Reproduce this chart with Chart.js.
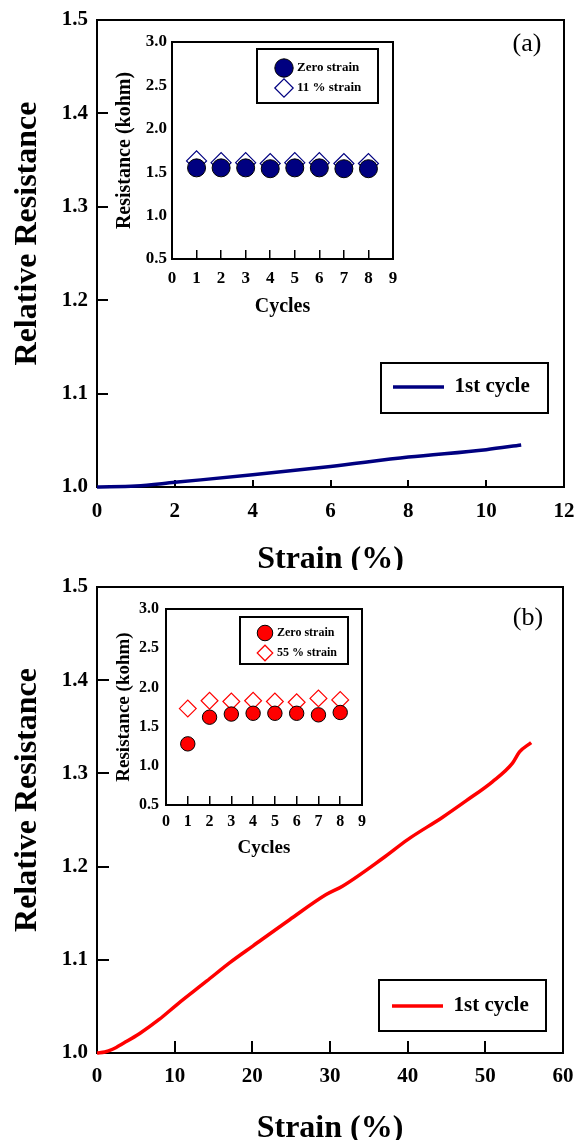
<!DOCTYPE html>
<html>
<head>
<meta charset="utf-8">
<script src="https://cdn.jsdelivr.net/npm/chart.js@4.4.1/dist/chart.umd.min.js"></script>
<style>
  body { margin: 0; background: #fff; }
  #page { position: relative; width: 576px; height: 1140px; overflow: hidden; }
  canvas { position: absolute; }
</style>
</head>
<body>
<div id="page">
  <canvas id="mainA" width="576" height="570" style="left:0;top:0"></canvas>
  <canvas id="mainB" width="576" height="570" style="left:0;top:570px"></canvas>
  <canvas id="insetA" width="300" height="295" style="left:105px;top:30px"></canvas>
  <canvas id="insetB" width="280" height="265" style="left:100px;top:597px"></canvas>
</div>
<script>
// Panel (a): first stretch cycle up to 11 % strain
const strainA = [0, 1, 2, 4, 6, 8, 10, 10.9];
const relResA = [1.000, 1.001, 1.005, 1.013, 1.022, 1.032, 1.040, 1.045];

// Panel (b): first stretch cycle up to 55 % strain
const strainB = [0, 1, 2, 3.5, 5.5, 8, 10.3, 14.1, 17.1, 20.1, 24.8, 29.5, 31.6, 36.8, 40, 44.5, 47.6, 50.9, 53.5, 54.4, 55.9];
const relResB = [1.000, 1.001, 1.004, 1.011, 1.021, 1.036, 1.052, 1.077, 1.097, 1.115, 1.143, 1.170, 1.179, 1.209, 1.229, 1.253, 1.271, 1.291, 1.311, 1.323, 1.333];

// Insets: resistance (kohm) per cycle
const cycles = [1, 2, 3, 4, 5, 6, 7, 8];
const zeroStrainA = [1.55, 1.55, 1.55, 1.54, 1.55, 1.55, 1.54, 1.54];
const strain11A = [1.63, 1.61, 1.61, 1.60, 1.61, 1.61, 1.60, 1.60];
const zeroStrainB = [1.28, 1.62, 1.66, 1.67, 1.67, 1.67, 1.65, 1.68];
const strain55B = [1.73, 1.83, 1.82, 1.83, 1.82, 1.81, 1.86, 1.84];

// Tick labels
const strainTicksA = [0, 2, 4, 6, 8, 10, 12];
const strainTicksB = [0, 10, 20, 30, 40, 50, 60];
const relResTicks = [1.0, 1.1, 1.2, 1.3, 1.4, 1.5];
const cycleTicks = [0, 1, 2, 3, 4, 5, 6, 7, 8, 9];
const kohmTicks = [0.5, 1.0, 1.5, 2.0, 2.5, 3.0];

const navy = '#000080';
const red = '#ff0000';

Chart.defaults.font.family = "'Liberation Serif', 'Times New Roman', serif";
Chart.defaults.font.weight = 'bold';
Chart.defaults.color = '#000';

// box around the plot area
function framePlugin(width) {
    return {
        id: 'frame',
        beforeDatasetsDraw(chart) {
            const { ctx, chartArea: a } = chart;
            ctx.save();
            ctx.strokeStyle = '#000';
            ctx.lineWidth = width;
            ctx.strokeRect(a.left, a.top, a.right - a.left, a.bottom - a.top);
            ctx.restore();
        }
    };
}

// move the legend inside the plot and draw a border round it
function legendBoxPlugin(box, item, pad) {
    return {
        id: 'legendBox',
        beforeDraw(chart) {
            const lg = chart.legend;
            lg.left = item.x - pad;
            lg.top = item.y - pad;
            lg.right = box.x + box.w;
            lg.bottom = chart.height;
            lg.width = lg.right - lg.left;
            lg.height = lg.bottom - lg.top;
        },
        afterDraw(chart) {
            const ctx = chart.ctx;
            ctx.save();
            ctx.strokeStyle = '#000';
            ctx.lineWidth = 2;
            ctx.strokeRect(box.x, box.y, box.w, box.h);
            ctx.restore();
        }
    };
}

function panelLabel(text, x, y) {
    return {
        id: 'panelLabel',
        afterDraw(chart) {
            const ctx = chart.ctx;
            ctx.save();
            ctx.font = "26px 'Liberation Serif', serif";
            ctx.fillStyle = '#000';
            ctx.textAlign = 'center';
            ctx.textBaseline = 'middle';
            ctx.fillText(text, x, y);
            ctx.restore();
        }
    };
}

function toPoints(xs, ys) {
    return xs.map((x, i) => ({ x: x, y: ys[i] }));
}

// fixed axis sizes, no extra room for overhanging labels
function fixHeight(h) {
    return s => { s.height = h; s.paddingLeft = 0; s.paddingRight = 0; };
}
function fixWidth(w) {
    return s => { s.width = w; s.paddingTop = 0; s.paddingBottom = 0; };
}

// Main relative resistance vs strain chart
function mainChart(id, c) {
    return new Chart(document.getElementById(id), {
        type: 'line',
        data: {
            datasets: [{
                label: '1st cycle',
                data: toPoints(c.xs, c.ys),
                borderColor: c.color,
                backgroundColor: c.color,
                borderWidth: 3.5,
                pointRadius: 0,
                cubicInterpolationMode: 'monotone',
                clip: false
            }]
        },
        options: {
            responsive: false,
            animation: false,
            events: [],
            layout: { padding: { left: 0, top: c.top, right: c.right, bottom: 0 } },
            scales: {
                x: {
                    type: 'linear',
                    min: c.xTicks[0],
                    max: c.xTicks[c.xTicks.length - 1],
                    afterBuildTicks: s => { s.ticks = c.xTicks.map(v => ({ value: v })); },
                    afterFit: fixHeight(c.xHeight),
                    grid: { drawOnChartArea: false, tickLength: -c.xTickLen, color: '#000', lineWidth: 2 },
                    border: { color: '#000', width: 2 },
                    ticks: { font: { size: 21 }, padding: c.xPad, maxRotation: 0, autoSkip: false, callback: v => String(v) },
                    title: { display: true, text: 'Strain (%)', font: { size: 32 }, padding: { top: 0, bottom: c.xTitlePad } }
                },
                y: {
                    type: 'linear',
                    min: 1.0,
                    max: 1.5,
                    afterBuildTicks: s => { s.ticks = relResTicks.map(v => ({ value: v })); },
                    afterFit: fixWidth(97),
                    grid: { drawOnChartArea: false, tickLength: -c.yTickLen, color: '#000', lineWidth: 2 },
                    border: { color: '#000', width: 2 },
                    ticks: { font: { size: 21 }, padding: c.yPad, autoSkip: false, callback: v => v.toFixed(1) },
                    title: { display: true, text: '     Relative Resistance', font: { size: 32 }, padding: { top: 9, bottom: 0 } }
                }
            },
            plugins: {
                legend: {
                    position: 'chartArea',
                    align: 'start',
                    labels: { usePointStyle: true, pointStyle: 'line', pointStyleWidth: 51, padding: 0, font: { size: 21 } }
                },
                tooltip: { enabled: false }
            }
        },
        plugins: [framePlugin(2), legendBoxPlugin(c.legendBox, c.legendItem, 0), panelLabel(c.label, c.labelX, c.labelY)]
    });
}

// Inset: resistance vs cycle
function insetChart(id, c) {
    return new Chart(document.getElementById(id), {
        type: 'scatter',
        data: {
            datasets: [{
                label: 'Zero strain',
                data: toPoints(cycles, c.zero),
                pointStyle: 'circle',
                pointRadius: c.circleR,
                backgroundColor: c.color,
                borderColor: '#000',
                borderWidth: 1
            }, {
                label: c.strainLabel,
                data: toPoints(cycles, c.strained),
                pointStyle: 'rectRot',
                pointRadius: c.diamondR,
                backgroundColor: '#fff',
                borderColor: c.color,
                borderWidth: 1.2
            }]
        },
        options: {
            responsive: false,
            animation: false,
            events: [],
            layout: { padding: { left: 0, top: 12, right: c.right, bottom: 0 } },
            scales: {
                x: {
                    min: 0,
                    max: 9,
                    afterBuildTicks: s => { s.ticks = cycleTicks.map(v => ({ value: v })); },
                    afterFit: fixHeight(c.xHeight),
                    grid: { drawOnChartArea: false, tickLength: -9, color: '#000', lineWidth: 1.5 },
                    border: { color: '#000', width: 2 },
                    ticks: { font: { size: c.tickSize }, padding: c.xPad, maxRotation: 0, autoSkip: false, callback: v => String(v) },
                    title: { display: true, text: 'Cycles', font: { size: c.titleSize }, padding: { top: 0, bottom: c.xTitlePad } }
                },
                y: {
                    min: 0.5,
                    max: 3.0,
                    afterBuildTicks: s => { s.ticks = kohmTicks.map(v => ({ value: v })); },
                    afterFit: fixWidth(c.yWidth),
                    grid: { drawOnChartArea: false, drawTicks: false },
                    border: { color: '#000', width: 2 },
                    ticks: { font: { size: c.tickSize }, padding: c.yPad, autoSkip: false, callback: v => v.toFixed(1) },
                    title: { display: true, text: 'Resistance (kohm)', font: { size: c.titleSize }, padding: { top: c.yTitlePad, bottom: 0 } }
                }
            },
            plugins: {
                legend: {
                    position: 'chartArea',
                    align: 'start',
                    labels: { usePointStyle: true, boxHeight: c.boxH, padding: c.legendPad, font: { size: c.legendSize } }
                },
                tooltip: { enabled: false }
            }
        },
        plugins: [framePlugin(2), legendBoxPlugin(c.legendBox, c.legendItem, c.legendPad)]
    });
}

mainChart('mainA', {
    xs: strainA, ys: relResA, color: navy, xTicks: strainTicksA,
    top: 20, right: 12, xHeight: 83, xTickLen: 7, yTickLen: 11, xPad: 19, yPad: 20, xTitlePad: -9,
    legendBox: { x: 381, y: 363, w: 167, h: 50 }, legendItem: { x: 393, y: 376.5 },
    label: '(a)', labelX: 527, labelY: 44
});

mainChart('mainB', {
    xs: strainB, ys: relResB, color: red, xTicks: strainTicksB,
    top: 17, right: 13, xHeight: 87, xTickLen: 12, yTickLen: 12, xPad: 23, yPad: 21, xTitlePad: -8,
    legendBox: { x: 379, y: 410, w: 167, h: 51 }, legendItem: { x: 392, y: 425.5 },
    label: '(b)', labelX: 528, labelY: 48
});

insetChart('insetA', {
    zero: zeroStrainA, strained: strain11A, strainLabel: '11 % strain', color: navy,
    circleR: 9, diamondR: 10, right: 12, xHeight: 66, yWidth: 67,
    tickSize: 17, titleSize: 20, xPad: 18, yPad: 5, xTitlePad: 6, yTitlePad: 8,
    boxH: 13, legendPad: 7, legendSize: 13,
    legendBox: { x: 152, y: 19, w: 121, h: 54 }, legendItem: { x: 172.5, y: 31.5 }
});

insetChart('insetB', {
    zero: zeroStrainB, strained: strain55B, strainLabel: '55 % strain', color: red,
    circleR: 7.2, diamondR: 8.4, right: 18, xHeight: 57, yWidth: 66,
    tickSize: 16, titleSize: 19, xPad: 16, yPad: 7, xTitlePad: 3, yTitlePad: 13,
    boxH: 11, legendPad: 8, legendSize: 12,
    legendBox: { x: 140, y: 20, w: 108, h: 47 }, legendItem: { x: 159, y: 30 }
});
</script>
</body>
</html>
